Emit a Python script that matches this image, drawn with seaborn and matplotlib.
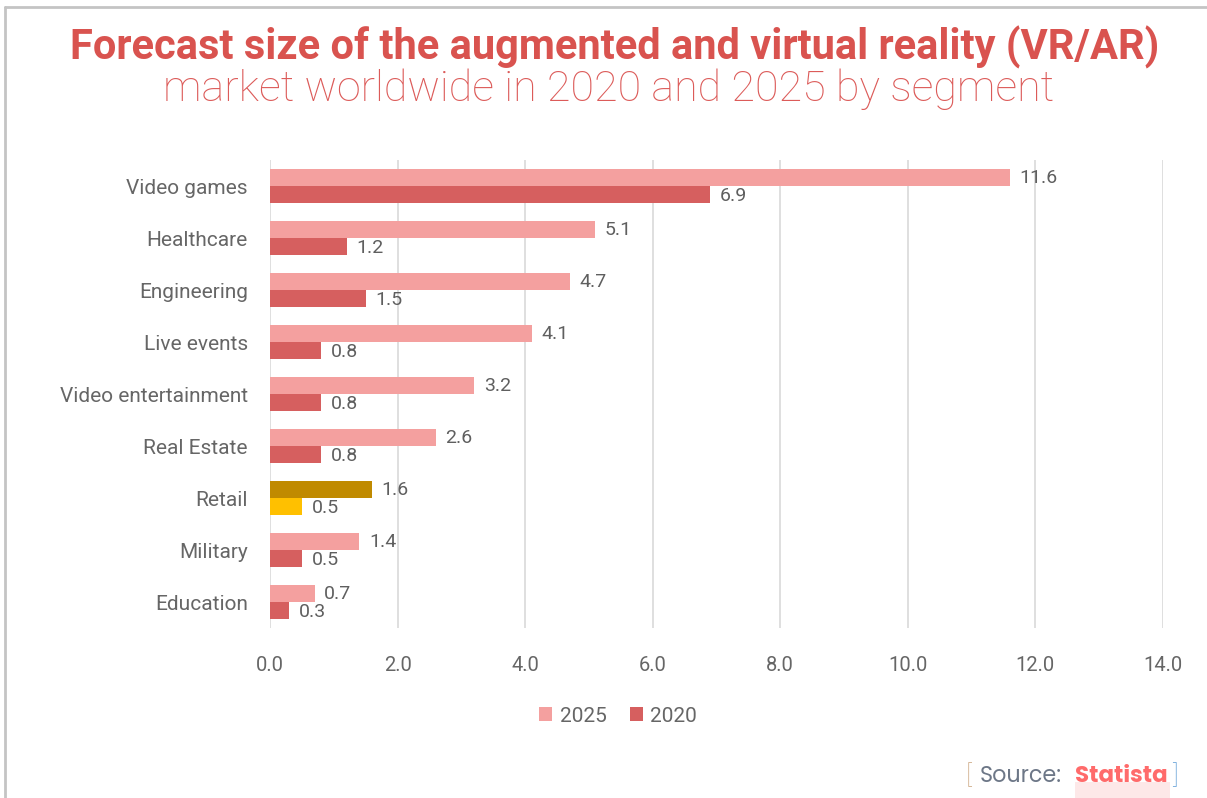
import matplotlib
matplotlib.use("Agg")
import matplotlib.pyplot as plt
from matplotlib.lines import Line2D
from matplotlib.patches import Patch, Rectangle
import seaborn as sns
import pandas as pd

segments = ["Video games", "Healthcare", "Engineering", "Live events",
            "Video entertainment", "Real Estate", "Retail", "Military", "Education"]
values_2025 = [11.6, 5.1, 4.7, 4.1, 3.2, 2.6, 1.6, 1.4, 0.7]
values_2020 = [6.9, 1.2, 1.5, 0.8, 0.8, 0.8, 0.5, 0.5, 0.3]
years = ["2025", "2020"]
x_ticks = [0, 2, 4, 6, 8, 10, 12, 14]

highlight_segment = "Retail"
colors = {"2025": "#f4a09f", "2020": "#d65f5f"}
highlight_colors = {"2025": "#c08a00", "2020": "#ffc000"}

df = pd.DataFrame({
    "segment": segments * 2,
    "year": [years[0]] * len(segments) + [years[1]] * len(segments),
    "value": values_2025 + values_2020,
})

sns.set_theme(style="white")
plt.rcParams["font.family"] = ["Roboto", "DejaVu Sans"]

W, H = 1207, 798
fig = plt.figure(figsize=(W / 100, H / 100), dpi=100)
ax = fig.add_axes([270 / W, 1 - 628 / H, (1163 - 270) / W, (628 - 160) / H])

sns.barplot(data=df, y="segment", x="value", hue="year", order=segments,
            hue_order=years, palette=colors, orient="h", width=0.66,
            dodge=True, ax=ax, legend=False, saturation=1)

text_gray = "#5f5f5f"
for container, year in zip(ax.containers, years):
    vals = values_2025 if year == "2025" else values_2020
    for patch, seg, val in zip(container.patches, segments, vals):
        if seg == highlight_segment:
            patch.set_facecolor(highlight_colors[year])
        patch.set_edgecolor("none")
        ax.text(val + 0.15, patch.get_y() + patch.get_height() / 2 + 0.02,
                f"{val:.1f}", va="center", ha="left", fontsize=14, color=text_gray)

ax.set_xlim(0, 14)
ax.set_ylim(len(segments) - 0.5, -0.5)
ax.set_xticks(x_ticks)
ax.set_xticklabels([f"{t:.1f}" for t in x_ticks])
ax.tick_params(axis="x", length=0, pad=20, labelsize=14.5, labelcolor="#666666")
ax.tick_params(axis="y", length=0, pad=16, labelsize=15, labelcolor="#666666")
ax.set_xlabel("")
ax.set_ylabel("")
ax.grid(axis="x", color="#d9d9d9", linewidth=1.2)
ax.set_axisbelow(True)
for s in ax.spines.values():
    s.set_visible(False)

handles = [Patch(facecolor=colors[y], edgecolor="none", label=y) for y in years]
fig.legend(handles=handles, loc="center", bbox_to_anchor=(618 / W, 1 - 716 / H),
           ncol=2, frameon=False, fontsize=15, handlelength=0.65, handleheight=0.65,
           handletextpad=0.35, columnspacing=1.1, labelcolor="#666666")

fig.text(615 / W, 1 - 47 / H,
         "Forecast size of the augmented and virtual reality (VR/AR)",
         ha="center", va="center", fontsize=30, fontweight="bold", color="#d9534f")
fig.text(609 / W, 1 - 89 / H,
         "market worldwide in 2020 and 2025 by segment",
         ha="center", va="center", fontsize=31, fontweight="light", color="#dc5b59")

# source line
y_src = 1 - 776 / H
fig.add_artist(Rectangle((1075 / W, 0), (1170 - 1075) / W, (798 - 782) / H,
                         transform=fig.transFigure, facecolor="#fde8e8",
                         edgecolor="none", zorder=0))
fig.text(966 / W, y_src, "[", ha="left", va="center", fontsize=19,
         color="#c9a27a", fontweight="light")
fig.text(980 / W, y_src, "Source:", ha="left", va="center", fontsize=16,
         color="#6d7787", family=["Poppins", "Open Sans", "DejaVu Sans"])
fig.text(1075 / W, y_src, "Statista", ha="left", va="center", fontsize=16.5,
         color="#ff6b6b", fontweight="bold", family=["Poppins", "Open Sans", "DejaVu Sans"])
fig.text(1172 / W, y_src, "]", ha="left", va="center", fontsize=19,
         color="#5b9bd5", fontweight="light")

# page frame
fig.add_artist(Line2D([5 / W, 1], [1 - 7 / H, 1 - 7 / H], color="#c4c4c4",
                      linewidth=2, transform=fig.transFigure))
fig.add_artist(Line2D([5 / W, 5 / W], [0, 1 - 7 / H], color="#c4c4c4",
                      linewidth=2, transform=fig.transFigure))

fig.savefig("out.png", dpi=100, facecolor="white")
